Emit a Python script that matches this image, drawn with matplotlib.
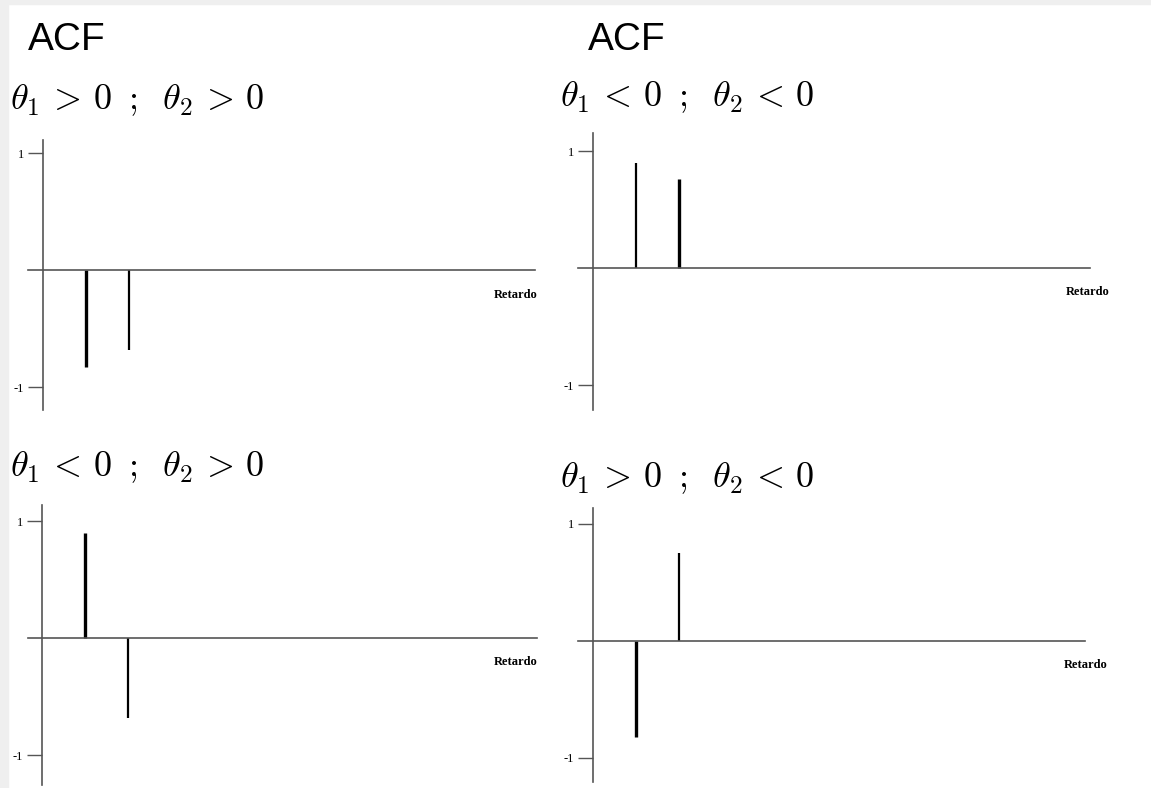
import matplotlib
matplotlib.use('Agg')
import matplotlib.pyplot as plt
from matplotlib.patches import Rectangle

plt.rcParams['mathtext.fontset'] = 'cm'

W, H = 1151, 788

# autocorrelations of an MA(2) process at lags 1 and 2
lags = [1, 2]
acf_pp = [-0.83, -0.68]   # theta1 > 0, theta2 > 0
acf_nn = [0.90, 0.76]     # theta1 < 0, theta2 < 0
acf_np = [0.90, -0.68]    # theta1 < 0, theta2 > 0
acf_pn = [-0.82, 0.75]    # theta1 > 0, theta2 < 0

cases = [r'$\theta_1\,>\,0\;\;;\;\;\theta_2\,>\,0$',
         r'$\theta_1\,<\,0\;\;;\;\;\theta_2\,<\,0$',
         r'$\theta_1\,<\,0\;\;;\;\;\theta_2\,>\,0$',
         r'$\theta_1\,>\,0\;\;;\;\;\theta_2\,<\,0$']
xlabel = 'Retardo'
ytick_vals = [1, -1]
ytick_text = ['1', '-1']

LAG_PX = 43     # pixels between consecutive lags
UNIT_PX = 117   # pixels for one unit of correlation
AX_GRAY = '#555555'

fig = plt.figure(figsize=(W / 100, H / 100), dpi=100)
fig.patch.set_facecolor('white')

# scanned-page margin
fig.patches.append(Rectangle((0, 0), 8 / W, 1, transform=fig.transFigure,
                             color='#efefef', zorder=0))
fig.patches.append(Rectangle((0, 1 - 4 / H), 1, 4 / H, transform=fig.transFigure,
                             color='#efefef', zorder=0))


def px_text(x, y, s, **kw):
    fig.text(x / W, 1 - y / H, s, **kw)


def panel(spine_x, zero_y, top, bottom, left, right, values, widths):
    ax = fig.add_axes([left / W, 1 - bottom / H, (right - left) / W, (bottom - top) / H])
    ax.set_xlim((left - spine_x) / LAG_PX, (right - spine_x) / LAG_PX)
    ax.set_ylim(-(bottom - zero_y) / UNIT_PX, (zero_y - top) / UNIT_PX)
    ax.patch.set_alpha(0)
    for s in ['top', 'right']:
        ax.spines[s].set_visible(False)
    ax.spines['left'].set_position(('data', 0))
    ax.spines['bottom'].set_position(('data', 0))
    for s in ['left', 'bottom']:
        ax.spines[s].set_color(AX_GRAY)
        ax.spines[s].set_linewidth(1.2)
    ax.set_xticks([])
    ax.set_yticks(ytick_vals)
    ax.set_yticklabels(ytick_text, family='Liberation Serif', fontsize=9)
    ax.tick_params(axis='y', direction='out', length=10.5, width=1.0,
                   color=AX_GRAY, pad=3)
    for lag, v, lw in zip(lags, values, widths):
        ax.vlines(lag, 0, v, color='black', linewidth=lw)
    return ax


panel(43, 270, 140, 410, 28, 535, acf_pp, [2.4, 1.6])
panel(593, 268, 133, 410, 578, 1090, acf_nn, [1.6, 2.4])
panel(42, 638, 505, 785, 28, 537, acf_np, [2.4, 1.6])
panel(593, 641, 508, 782, 578, 1085, acf_pn, [2.4, 1.6])

# headings
px_text(28, 40, 'ACF', family='Liberation Sans', fontsize=28, va='center', ha='left')
px_text(588, 40, 'ACF', family='Liberation Sans', fontsize=28, va='center', ha='left')

px_text(10, 100, cases[0], fontsize=26, va='center', ha='left')
px_text(560, 97, cases[1], fontsize=26, va='center', ha='left')
px_text(10, 467, cases[2], fontsize=26, va='center', ha='left')
px_text(560, 478, cases[3], fontsize=26, va='center', ha='left')

# lag axis labels
for x, y in [(516, 295), (1088, 292), (516, 662), (1086, 665)]:
    px_text(x, y, xlabel, family='Liberation Serif', fontsize=9,
            fontweight='bold', va='center', ha='center')

fig.savefig('out.png', dpi=100)
